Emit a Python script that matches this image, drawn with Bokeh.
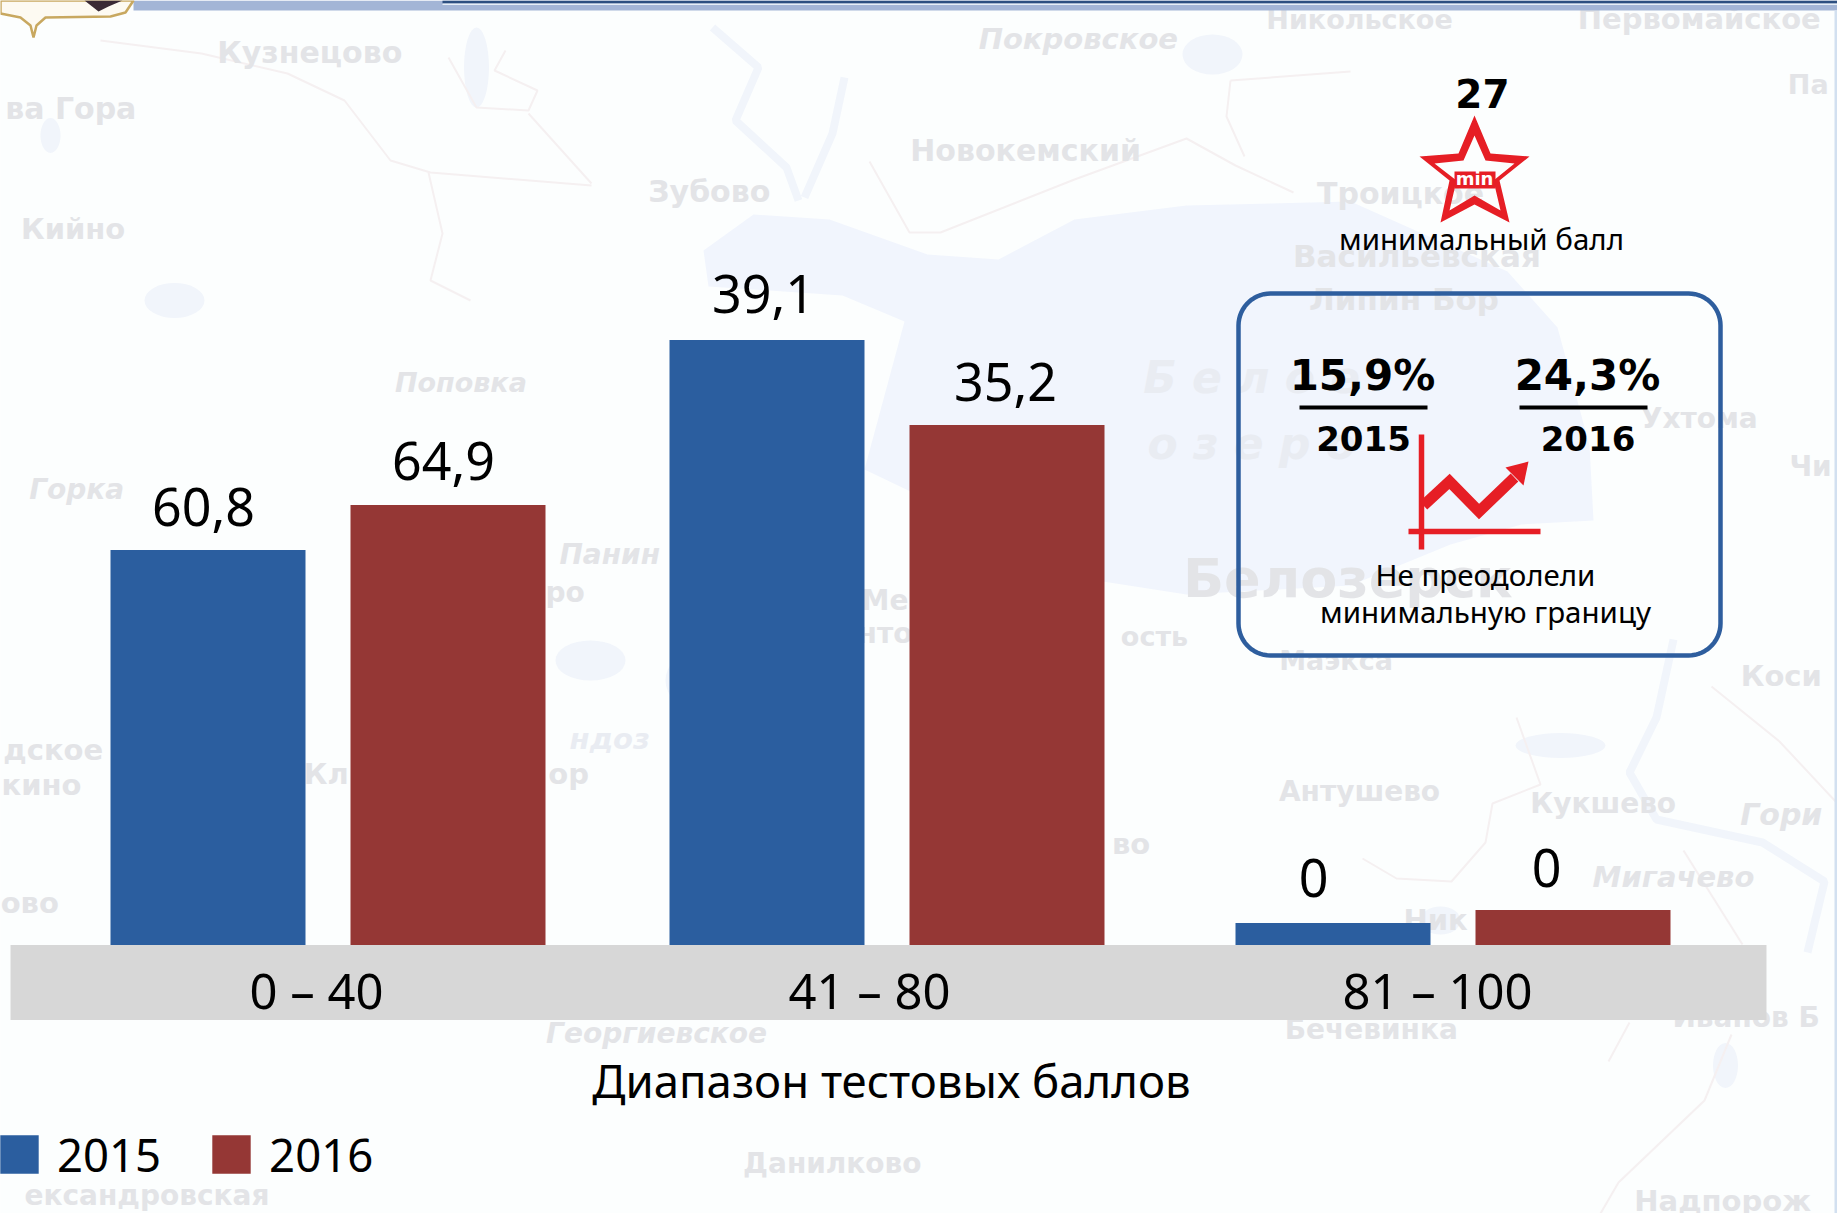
import numpy as np
from bokeh.core.properties import value
from bokeh.embed import file_html
from bokeh.models import ColumnDataSource, FixedTicker, Legend, LegendItem, Range1d
from bokeh.plotting import figure
from bokeh.resources import INLINE

# ---------- chart data ----------
categories = ["0 – 40", "41 – 80", "81 – 100"]
years = ["2015", "2016"]
# bar heights as drawn in the picture (the picture's bars do not follow their labels)
bars_2015 = [395, 605, 22]
bars_2016 = [440, 520, 35]
labels_2015 = ["60,8", "39,1", "0"]
labels_2016 = ["64,9", "35,2", "0"]
axis_title = "Диапазон тестовых баллов"
min_score = "27"
min_caption = "минимальный балл"
fail_2015 = "15,9%"
fail_2016 = "24,3%"
fail_caption = ["Не преодолели", "минимальную границу"]

# ---------- layout (page pixel coordinates) ----------
BASE = 944.5
W, H = 1837, 1213

x_2015 = [207.5, 766.5, 1332.5]
x_2016 = [447.5, 1006.5, 1572.5]
bar_w = 195
lab_x_2015 = [203, 763, 1313]
lab_x_2016 = [443, 1005, 1546]
lab_gap_2015 = [23, 26, 25]
lab_gap_2016 = [24, 23, 22]
cat_x = [316, 869, 1437]
BLUE, RED = "#2b5e9f", "#953735"
ICON = "#e61e25"
SANS = "Noto Sans"
BOLD = "DejaVu Sans"

p = figure(width=W, height=H, x_range=Range1d(0, W), y_range=Range1d(BASE - H, BASE),
           output_backend="svg", toolbar_location=None, min_border=0,
           background_fill_color="#fcfefe", border_fill_color="#fcfefe", outline_line_color=None)
p.grid.visible = False
p.yaxis.visible = False

def flip(ys):
    return list(BASE - np.asarray(ys, dtype=float))

# ---------- faint map behind the chart ----------
lake_x = [753, 829, 927, 998, 1074, 1186, 1350, 1507, 1557, 1589, 1593, 1521, 1450, 1350, 1186, 1096, 864, 904, 842, 708, 703]
lake_y = [214, 219, 254, 259, 219, 205, 201, 271, 327, 445, 520, 524, 544, 585, 594, 580, 469, 321, 295, 286, 250]
p.patch(lake_x, flip(lake_y), fill_color="#f1f5fd", line_color=None)

pond_x = [1212, 476, 174, 745, 1560, 1440, 700, 1725, 590, 50]
pond_y = [54, 67, 300, 500, 745, 920, 680, 1065, 660, 135]
pond_w = [60, 25, 60, 35, 90, 40, 70, 25, 70, 20]
pond_h = [40, 80, 35, 30, 25, 28, 60, 45, 40, 35]
p.ellipse(pond_x, flip(pond_y), width=pond_w, height=pond_h, fill_color="#f1f5fb", line_color=None)

river_x = [[1673, 1656, 1629, 1656, 1762, 1824, 1807], [712, 758, 735, 786, 798], [844, 832, 804]]
river_y = [[639, 717, 772, 819, 842, 881, 952], [27, 67, 120, 167, 200], [77, 133, 197]]
p.multi_line(river_x, [flip(r) for r in river_y], line_color="#f1f5fb", line_width=8)

road_x = [[100, 201, 287, 344, 390, 430, 591], [428, 442, 430, 470], [528, 591], [448, 476, 528, 537, 494, 505],
          [869, 909, 940, 1074, 1186, 1235, 1293], [1230, 1350], [1230, 1226, 1244], [1711, 1779, 1837],
          [1516, 1540, 1492, 1485, 1451, 1396, 1362], [1683, 1742], [1629, 1608], [1731, 1704, 1618, 1600]]
road_y = [[40, 53, 73, 100, 160, 172, 185], [172, 233, 280, 300], [113, 183], [57, 107, 110, 90, 70, 50],
          [161, 232, 232, 179, 138, 165, 192], [80, 71], [80, 116, 156], [686, 741, 803],
          [717, 784, 803, 842, 881, 878, 858], [850, 944], [1022, 1061], [1034, 1100, 1182, 1213]]
p.multi_line(road_x, [flip(r) for r in road_y], line_color="#f5f0f1", line_width=2)

S = 1837 / 1568
map_names = ["Кузнецово", "Покровское", "Первомайское", "Никольское", "Па", "ва Гора", "Новокемский", "Зубово",
             "Кийно", "Троицкое", "Васильевская", "Липин Бор", "Поповка", "Б е л о е", "о з е р о", "Горка", "Ухтома", "Чи",
             "Панин", "ро", "Ме", "нто", "ость", "Белозерск", "Маэкса", "Коси", "дское", "кино", "Кл", "ор", "ндоз", "Антушево",
             "Кукшево", "Гори", "Мигачево", "ово", "Ник", "во", "Георгиевское", "Бечевинка", "Иванов Б",
             "Данилково", "ександровская", "Надпорож"]
map_x = [264, 920, 1450, 1160, 1543, 60, 875, 605, 62, 1195, 1209, 1198, 393, 1068, 1068, 65, 1450, 1545,
         520, 482, 755, 755, 985, 1150, 1140, 1520, 45, 35, 278, 485, 520, 1160, 1368, 1520, 1428, 25, 1225, 965, 560, 1170, 1490,
         710, 125, 1470]
map_y = [44, 33, 16, 16, 72, 92, 128, 163, 195, 165, 218, 255, 326, 322, 378, 417, 357, 398,
         473, 505, 512, 540, 543, 493, 563, 577, 640, 670, 660, 660, 630, 675, 685, 695, 748, 770, 785, 720, 882, 878, 868,
         993, 1020, 1025]
map_size = [30, 29, 29, 27, 27, 30, 30, 30, 29, 30, 31, 31, 27, 44, 44, 28, 28, 28,
            28, 28, 28, 28, 27, 54, 27, 29, 29, 29, 29, 29, 29, 28, 28, 30, 29, 29, 29, 29, 28, 28, 28,
            28, 28, 29]
map_italic = ["Покровское", "Поповка", "Б е л о е", "о з е р о", "Горка", "Панин", "Георгиевское", "ндоз", "Гори", "Мигачево"]
map_pale = ["Б е л о е", "о з е р о", "ндоз"]
map_src = ColumnDataSource(dict(x=[v * S for v in map_x], y=[BASE - v * S for v in map_y], text=map_names,
                                size=[f"{s}px" for s in map_size],
                                style=["bold italic" if n in map_italic else "bold" for n in map_names],
                                color=["#e9ecf2" if n in map_pale else "#e3e4e7" for n in map_names]))
p.text("x", "y", text="text", source=map_src, text_font=value("DejaVu Sans"), text_font_style="style",
       text_font_size="size", text_color="color", text_align="center", text_baseline="middle")

# header strip and ornament at the very top
p.quad(left=[133], right=[W], top=[BASE], bottom=[BASE - 10], fill_color="#a3b5d6", line_color=None)
p.quad(left=[442], right=[W], top=[BASE], bottom=[BASE - 3], fill_color="#2c4f80", line_color=None)
p.quad(left=[442], right=[W], top=[BASE - 3], bottom=[BASE - 4.5], fill_color="#e6eef6", line_color=None)
p.quad(left=[1834], right=[W], top=[BASE - 10], bottom=[BASE - H], fill_color="#d2e0f0", line_color=None)
p.patch([0, 20, 30, 33, 36, 45, 110, 125, 133, 133, 0], flip([13, 17, 25, 37, 25, 17, 16, 12, 0, 0, 0]),
        fill_color="#fdfaf2", line_color="#c8a860", line_width=2.5)
p.patch([84, 122, 108, 98], flip([0, 0, 6, 11]), fill_color="#3a2a35", line_color=None)

# ---------- category band ----------
p.quad(left=[10], right=[1766], top=[0], bottom=[BASE - 1019.5], fill_color="#d7d7d7", line_color=None)

# ---------- bars ----------
r15 = p.vbar(x=x_2015, top=bars_2015, bottom=0, width=bar_w, fill_color=BLUE, line_color=None)
r16 = p.vbar(x=x_2016, top=bars_2016, bottom=0, width=bar_w, fill_color=RED, line_color=None)

def label(x, y, t, size, font=SANS, style="normal", color="#000000", align="center"):
    # the glyph's alphabetic baseline sits about 0.38 em under the data position
    p.text(x, y, text=t, text_font=value(font), text_font_size=f"{size}px", text_font_style=style,
           text_color=color, text_align=align, text_baseline="alphabetic", y_offset=-0.38 * size)

label(lab_x_2015, [h + g for h, g in zip(bars_2015, lab_gap_2015)], labels_2015, 52)
label(lab_x_2016, [h + g for h, g in zip(bars_2016, lab_gap_2016)], labels_2016, 52)

# ---------- axis ----------
xa = p.xaxis[0]
xa.fixed_location = 0
xa.ticker = FixedTicker(ticks=cat_x)
xa.major_label_overrides = dict(zip(cat_x, categories))
xa.major_label_text_font = SANS
xa.major_label_text_font_size = "49px"
xa.major_label_text_color = "#000000"
xa.major_label_standoff = 6
xa.axis_line_color = None
xa.major_tick_line_color = None
xa.minor_tick_line_color = None

label([891], [BASE - 1097], [axis_title], 45.5)

# ---------- legend ----------
legend = Legend(items=[LegendItem(label=years[0], renderers=[r15]), LegendItem(label=years[1], renderers=[r16])],
                orientation="horizontal", location=(-5, 28), glyph_width=48, glyph_height=48, label_standoff=14,
                spacing=46, padding=0, margin=0, border_line_color=None, background_fill_alpha=0,
                label_text_font=SANS, label_text_font_size="45.5px", label_text_color="#000000")
p.add_layout(legend)

# ---------- star with minimum score ----------
star_x = [1474, 1490, 1529, 1499, 1509, 1474, 1440, 1449, 1419, 1458]
star_y = [115, 153, 156, 180, 222, 204, 222, 180, 156, 153]
hole_x = [1474, 1485, 1514, 1493, 1500, 1474, 1449, 1456, 1434, 1463]
hole_y = [135, 160, 163, 180, 210, 195, 210, 180, 163, 160]
p.multi_polygons(xs=[[[star_x, hole_x]]], ys=[[[flip(star_y), flip(hole_y)]]],
                 fill_color=ICON, line_color=None)
p.quad(left=[1454], right=[1495], top=[BASE - 171], bottom=[BASE - 188], fill_color=ICON, line_color=None)
label([1474], [BASE - 185], ["min"], 18, font=BOLD, style="bold", color="#ffffff")
label([1482], [BASE - 108], [min_score], 39, font=BOLD, style="bold")
label([1481], [BASE - 249], [min_caption], 29.5)

# ---------- rounded frame ----------
x0, x1, y0, y1, rad = 1238, 1720, 293, 655, 32
arc = np.linspace(0, np.pi / 2, 16)
fx = np.concatenate([x1 - rad + rad * np.sin(arc), x1 - rad + rad * np.cos(arc), x0 + rad - rad * np.sin(arc), x0 + rad - rad * np.cos(arc)])
fy = np.concatenate([y0 + rad - rad * np.cos(arc), y1 - rad + rad * np.sin(arc), y1 - rad + rad * np.cos(arc), y0 + rad - rad * np.sin(arc)])
p.patch(fx, flip(fy), fill_color=None, line_color="#2e5e9e", line_width=4.5)

label([1362], [BASE - 391], [fail_2015], 42, font=BOLD, style="bold")
label([1587], [BASE - 391], [fail_2016], 42, font=BOLD, style="bold")
p.segment([1299, 1519], [BASE - 407] * 2, [1427, 1647], [BASE - 407] * 2, line_color="#000000", line_width=4)
label([1363], [BASE - 451], [years[0]], 34, font=BOLD, style="bold")
label([1587.5], [BASE - 451], [years[1]], 34, font=BOLD, style="bold")

# ---------- rising chart icon ----------
p.segment([1421, 1408], [BASE - 434, BASE - 531], [1421, 1540], [BASE - 549, BASE - 531], line_color=ICON, line_width=5.5)
p.line([1423, 1449, 1478.6, 1514], flip([505, 481, 511, 477]), line_color=ICON, line_width=11, line_join="miter")
p.patch([1505, 1528, 1523], flip([467, 461, 485]), fill_color=ICON, line_color=None)

label([1485], [BASE - 585], [fail_caption[0]], 29.5)
label([1485], [BASE - 622], [fail_caption[1]], 29.5)

open("out.html", "w").write(file_html(p, INLINE))
